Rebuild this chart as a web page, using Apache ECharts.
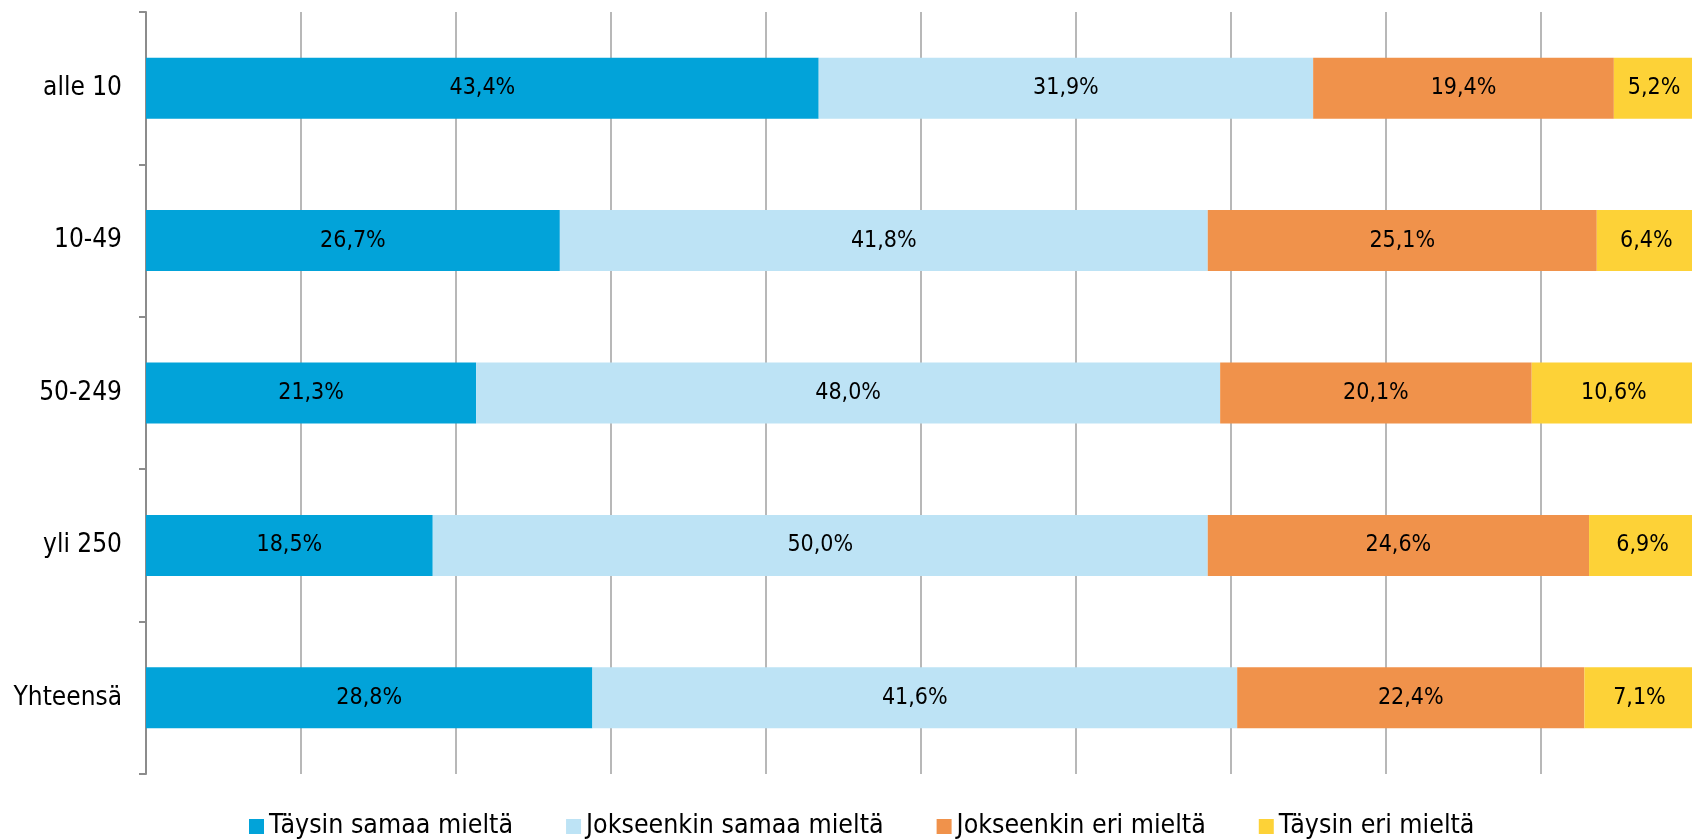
<!DOCTYPE html>
<html>
<head>
<meta charset="utf-8">
<script src="https://cdn.jsdelivr.net/npm/echarts@6/dist/echarts.min.js"></script>
<style>
  html, body { margin: 0; padding: 0; background: #fff; }
  #chart { width: 1692px; height: 840px; }
</style>
</head>
<body>
<div id="chart"></div>
<script>
const categories = ['alle 10', '10-49', '50-249', 'yli 250', 'Yhteensä'];
const seriesNames = ['Täysin samaa mieltä', 'Jokseenkin samaa mieltä', 'Jokseenkin eri mieltä', 'Täysin eri mieltä'];
const taysinSamaa = [43.4, 26.7, 21.3, 18.5, 28.8];
const jokseenkinSamaa = [31.9, 41.8, 48.0, 50.0, 41.6];
const jokseenkinEri = [19.4, 25.1, 20.1, 24.6, 22.4];
const taysinEri = [5.2, 6.4, 10.6, 6.9, 7.1];
const colors = ['#02A3D9', '#BDE3F5', '#F0924B', '#FDD237'];

const FONT = '"DejaVu Sans Condensed", "DejaVu Sans", sans-serif';

const chart = echarts.init(document.getElementById('chart'));

const fmt = p => p.value.toFixed(1).replace('.', ',') + '%';

const option = {
    animation: false,
    color: colors,
    textStyle: { fontFamily: FONT },
    grid: {
        left: 146, top: 12, width: 1550, height: 762,
        containLabel: false,
        outerBoundsMode: 'none'
    },
    legend: {
        left: 244,
        top: 808,
        itemWidth: 15,
        itemHeight: 15,
        itemGap: 53,
        icon: 'rect',
        textStyle: { fontSize: 26.5, color: '#000', fontFamily: FONT },
        data: seriesNames
    },
    xAxis: {
        type: 'value',
        min: 0,
        max: 100,
        interval: 10,
        axisLabel: { show: false },
        axisLine: { show: false },
        axisTick: { show: false },
        splitLine: { lineStyle: { color: '#A0A0A0', width: 1.5 } }
    },
    yAxis: {
        type: 'category',
        inverse: true,
        data: categories,
        axisLine: { show: true, lineStyle: { color: '#8C8C8C', width: 2 } },
        axisTick: { show: true, length: 7, lineStyle: { color: '#8C8C8C', width: 2 } },
        axisLabel: { fontSize: 26, color: '#000', margin: 24, fontFamily: FONT }
    },
    series: [taysinSamaa, jokseenkinSamaa, jokseenkinEri, taysinEri].map((d, i) => ({
        name: seriesNames[i],
        type: 'bar',
        stack: 'total',
        barWidth: 61,
        data: d,
        label: {
            show: true,
            position: 'inside',
            color: '#000',
            fontSize: 23,
            fontFamily: FONT,
            formatter: fmt
        }
    }))
};

chart.setOption(option);
</script>
</body>
</html>
